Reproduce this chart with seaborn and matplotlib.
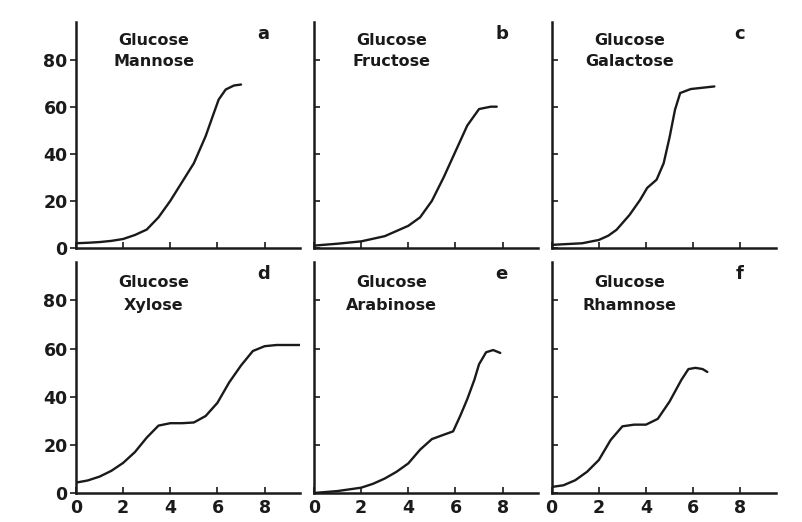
import matplotlib
matplotlib.use("Agg")
import matplotlib.pyplot as plt
import seaborn as sns
import pandas as pd

sns.set_style("ticks")
plt.rcParams['font.family'] = ['DejaVu Sans']

# ---- data (time, growth) ----
a_x = [0, 0.5, 1, 1.5, 2, 2.5, 3, 3.5, 4, 4.5, 5, 5.5, 5.8, 6.05, 6.35, 6.7, 7.0]
a_y = [2, 2.2, 2.5, 3, 3.8, 5.5, 7.8, 13, 20, 28, 36, 47.5, 56, 63, 67.3, 69, 69.4]

b_x = [0, 1, 2, 3, 4, 4.5, 5, 5.5, 6, 6.5, 7, 7.5, 7.75]
b_y = [1, 1.8, 2.8, 5, 9.4, 13, 20, 30, 41, 52, 59, 60, 60]

c_x = [0, 1.3, 2.0, 2.4, 2.75, 3.3, 3.75, 4.05, 4.45, 4.75, 5.0, 5.23, 5.45, 5.9, 6.9]
c_y = [1.3, 2, 3.4, 5.2, 7.7, 14, 20.4, 25.5, 29, 36, 47, 58.7, 65.8, 67.5, 68.6]

d_x = [0, 0.5, 1, 1.5, 2, 2.5, 3, 3.5, 4, 4.5, 5, 5.5, 6, 6.5, 7, 7.5, 8, 8.5, 9, 9.5]
d_y = [4.3, 5.2, 6.8, 9.2, 12.5, 17, 23, 28, 29, 29, 29.3, 32, 37.5, 46, 53, 59, 61, 61.5, 61.5, 61.5]

e_x = [0, 1, 2, 2.5, 3, 3.5, 4, 4.5, 5, 5.5, 5.9, 6.2, 6.5, 6.8, 7, 7.3, 7.6, 7.9]
e_y = [0, 0.8, 2.2, 3.8, 6, 8.8, 12.3, 18, 22.4, 24.2, 25.6, 32, 39, 47, 53.5, 58.5, 59.4, 58.2]

f_x = [0, 0.5, 1, 1.5, 2, 2.5, 3, 3.5, 4, 4.5, 5, 5.5, 5.8, 6.1, 6.4, 6.6]
f_y = [2.5, 3.2, 5.3, 8.8, 13.7, 22, 27.7, 28.4, 28.4, 30.8, 38, 47, 51.5, 52, 51.5, 50.3]

second_sugar = ["Mannose", "Fructose", "Galactose", "Xylose", "Arabinose", "Rhamnose"]
panel_letters = ["a", "b", "c", "d", "e", "f"]
x_ticks = [0, 2, 4, 6, 8]
y_ticks = [0, 20, 40, 60, 80]

series = [(a_x, a_y), (b_x, b_y), (c_x, c_y), (d_x, d_y), (e_x, e_y), (f_x, f_y)]

fig = plt.figure(figsize=(8.03, 5.22), dpi=100)
lefts = [0.0946, 0.391, 0.687]
bottoms = [0.525, 0.0556]
heights = [0.433, 0.4425]
width = 0.279

ink = "#1a1a1a"
for i, ((xs, ys), name, letter) in enumerate(zip(series, second_sugar, panel_letters)):
    r, c = divmod(i, 3)
    ax = fig.add_axes([lefts[c], bottoms[r], width, heights[r]])
    df = pd.DataFrame({"t": xs, "v": ys})
    sns.lineplot(data=df, x="t", y="v", ax=ax, color=ink, linewidth=1.7)
    ax.set_xlim(0, 9.5)
    ax.set_ylim(0, 96)
    ax.set_xticks(x_ticks)
    ax.set_yticks(y_ticks)
    ax.set_xlabel("")
    ax.set_ylabel("")
    for s in ("top", "right"):
        ax.spines[s].set_visible(False)
    for s in ("left", "bottom"):
        ax.spines[s].set_linewidth(1.8)
        ax.spines[s].set_color(ink)
    ax.tick_params(axis="x", direction="in", length=4, width=1.2, color=ink,
                   labelsize=12.5, labelcolor=ink, pad=4)
    ax.tick_params(axis="y", direction="out" if c == 0 else "in", length=4, width=1.2,
                   color=ink, labelsize=12.5, labelcolor=ink, pad=2)
    for lab in ax.get_xticklabels() + ax.get_yticklabels():
        lab.set_fontweight("bold")
    if r == 0:
        ax.set_xticklabels([])
    if c != 0:
        ax.set_yticklabels([])
    ax.text(3.3, 88 if r == 0 else 87.5, "Glucose", ha="center", va="center",
            fontsize=11.5, fontweight="bold", color=ink)
    ax.text(3.3, 79 if r == 0 else 78, name, ha="center", va="center",
            fontsize=11.5, fontweight="bold", color=ink)
    ax.text(7.95, 91, letter, ha="center", va="center", fontsize=13,
            fontweight="bold", color=ink)
    ax.set_facecolor("white")

fig.savefig("out.png", dpi=100, facecolor="white")
